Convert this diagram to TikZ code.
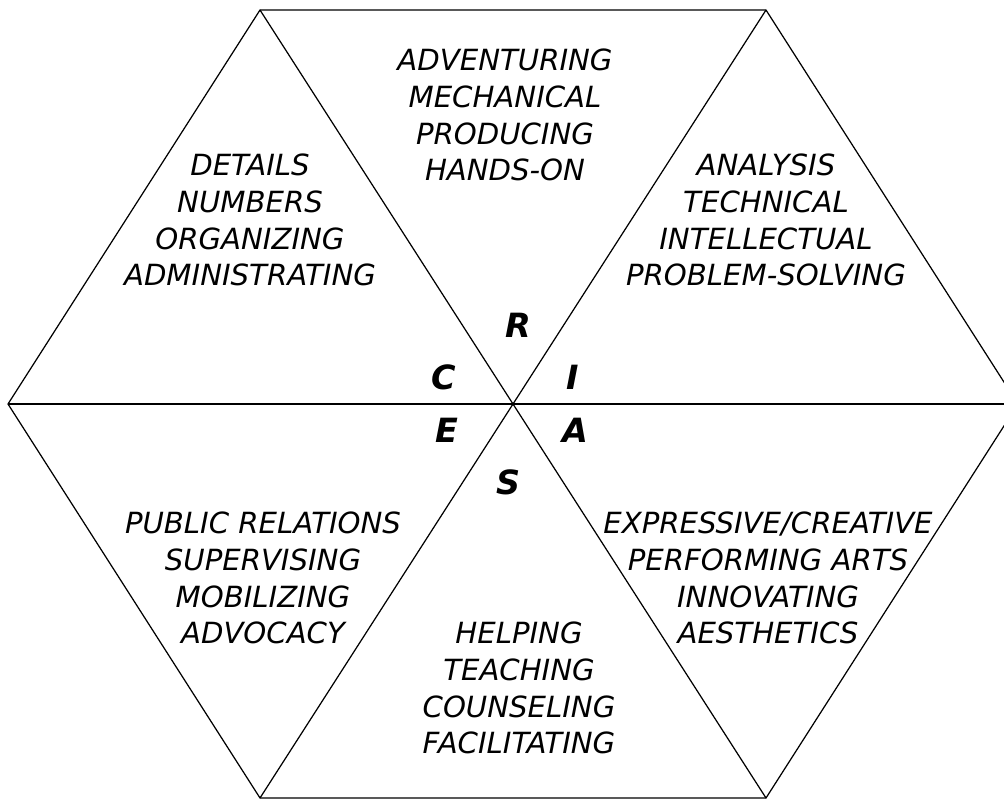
\documentclass[tikz,border=0pt]{standalone}
\usepackage{fontspec}
\setmainfont{DejaVu Sans}

\begin{document}
\begin{tikzpicture}[x=0.02cm, y=-0.02cm, line width=0.7pt,
  words/.style={font=\itshape\fontsize{16.6}{21}\selectfont, align=center, inner sep=0pt},
  letter/.style={font=\bfseries\itshape\fontsize{19}{22}\selectfont, inner sep=0pt}]
\useasboundingbox (0,0) rectangle (1004,799);
\clip (0,0) rectangle (1004,799);

% corners of the hexagon
\coordinate (o) at (513,404);
\coordinate (tl) at (260,10);
\coordinate (tr) at (766,10);
\coordinate (r) at (1018,404);
\coordinate (br) at (766,798);
\coordinate (bl) at (260,798);
\coordinate (l) at (8,404);

\draw (tl) -- (tr) -- (r) -- (br) -- (bl) -- (l) -- cycle;
\draw (tl) -- (br);
\draw (tr) -- (bl);
\draw (l) -- (r);

% the six fields
\node[words] (real) at (505,115) {ADVENTURING\\MECHANICAL\\PRODUCING\\HANDS-ON};
\node[words] (conv) at (250,220) {DETAILS\\NUMBERS\\ORGANIZING\\ADMINISTRATING};
\node[words] (inv) at (766,220) {ANALYSIS\\TECHNICAL\\INTELLECTUAL\\PROBLEM-SOLVING};
\node[words] (ent) at (263,578) {PUBLIC RELATIONS\\SUPERVISING\\MOBILIZING\\ADVOCACY};
\node[words] (art) at (768,578) {EXPRESSIVE/CREATIVE\\PERFORMING ARTS\\INNOVATING\\AESTHETICS};
\node[words] (soc) at (519,688) {HELPING\\TEACHING\\COUNSELING\\FACILITATING};

% the letters round the middle
\node[letter] (R) at (518,325) {R};
\node[letter] (C) at (444,377) {C};
\node[letter] (I) at (573,377) {I};
\node[letter] (E) at (447,430) {E};
\node[letter] (A) at (575,430) {A};
\node[letter] (S) at (509,482) {S};
\end{tikzpicture}
\end{document}
